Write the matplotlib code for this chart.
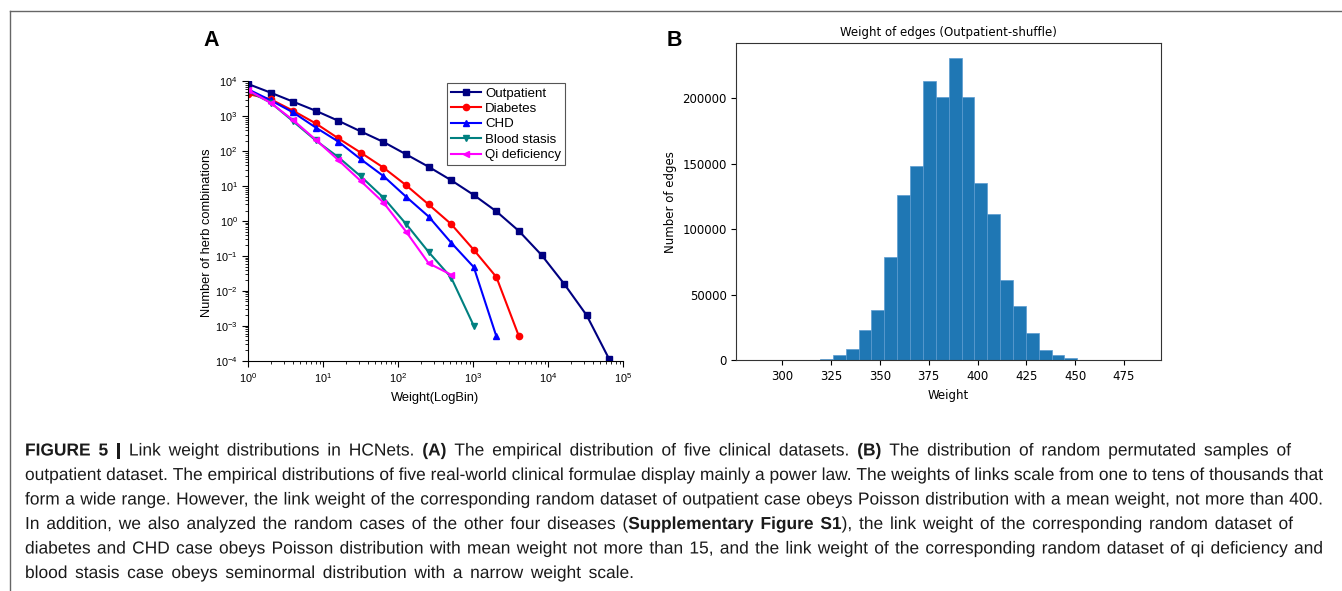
import re
import numpy as np
import matplotlib
matplotlib.use("Agg")
import matplotlib.pyplot as plt
from matplotlib.lines import Line2D
from matplotlib.patches import PathPatch
from matplotlib.textpath import TextPath, text_to_path
from matplotlib.font_manager import FontProperties
from matplotlib.transforms import Affine2D
from matplotlib.ticker import LogLocator, NullFormatter

plt.rcParams['font.family'] = ['Liberation Sans', 'DejaVu Sans']
plt.rcParams['mathtext.fontset'] = 'custom'
plt.rcParams['mathtext.rm'] = 'Liberation Sans'
plt.rcParams['mathtext.it'] = 'Liberation Sans:italic'
plt.rcParams['mathtext.bf'] = 'Liberation Sans:bold'

W, H = 1342, 591

# panel A: log-binned link weight distributions
weight_logbin = [1, 2, 4, 8, 16, 32, 64, 128, 256, 512, 1024, 2048, 4096,
                 8192, 16384, 32768, 65536]
outpatient = [8500, 4800, 2640, 1450, 750, 370, 185, 82, 36, 14.8, 5.6, 1.9,
              0.52, 0.107, 0.016, 0.002, 0.00011]
diabetes = [4400, 3100, 1450, 630, 235, 91, 34, 10.7, 3.0, 0.82, 0.15, 0.025, 0.0005]
chd = [6000, 2900, 1300, 480, 190, 59, 19.5, 5.0, 1.35, 0.24, 0.048, 0.0005]
blood_stasis = [5300, 2500, 720, 205, 68, 19, 4.7, 0.83, 0.13, 0.024, 0.001]
qi_deficiency = [5700, 2450, 780, 215, 56, 14, 3.4, 0.5, 0.062, 0.029]

series_names = ["Outpatient", "Diabetes", "CHD", "Blood stasis", "Qi deficiency"]
series_values = [outpatient, diabetes, chd, blood_stasis, qi_deficiency]
series_colors = ["#000080", "#ff0000", "#0000ff", "#008080", "#ff00ff"]
series_markers = ["s", "o", "^", "v", "<"]

# panel B: histogram of edge weights, shuffled outpatient data (30 bins)
shuffle_weight_min = 286.3
shuffle_weight_max = 484.1
shuffle_counts = [0, 0, 0, 0, 0, 1300, 4000, 8650, 22900, 38400, 78600,
                  126400, 148500, 213400, 200500, 230500, 200500, 135100,
                  111700, 61000, 41400, 20600, 7900, 4300, 1500, 500, 150,
                  50, 10, 5]

caption_lines = [
    "**FIGURE 5 |** Link weight distributions in HCNets. **(A)** The empirical distribution of five clinical datasets. **(B)** The distribution of random permutated samples of",
    "outpatient dataset. The empirical distributions of five real-world clinical formulae display mainly a power law. The weights of links scale from one to tens of thousands that",
    "form a wide range. However, the link weight of the corresponding random dataset of outpatient case obeys Poisson distribution with a mean weight, not more than 400.",
    "In addition, we also analyzed the random cases of the other four diseases (**Supplementary Figure S1**), the link weight of the corresponding random dataset of",
    "diabetes and CHD case obeys Poisson distribution with mean weight not more than 15, and the link weight of the corresponding random dataset of qi deficiency and",
    "blood stasis case obeys seminormal distribution with a narrow weight scale.",
]
caption_right = [1291, 1323, 1323, 1293, 1323, 634]

fig = plt.figure(figsize=(W / 100, H / 100), dpi=100)

# ---- panel A
axA = fig.add_axes([248 / W, 1 - 360.7 / H, (623 - 248) / W, (360.7 - 81.5) / H])
for name, vals, c, m in zip(series_names, series_values, series_colors, series_markers):
    axA.plot(weight_logbin[:len(vals)], vals, color=c, marker=m, lw=1.5, ms=4.5,
             label=name)
axA.set_xscale("log")
axA.set_yscale("log")
axA.set_xlim(1, 1e5)
axA.set_ylim(1e-4, 1e4)
axA.spines["top"].set_visible(False)
axA.spines["right"].set_visible(False)
axA.xaxis.set_major_locator(LogLocator(base=10, numticks=20))
axA.xaxis.set_minor_locator(LogLocator(base=10, subs=np.arange(2, 10), numticks=20))
axA.xaxis.set_minor_formatter(NullFormatter())
axA.yaxis.set_major_locator(LogLocator(base=10, numticks=20))
axA.yaxis.set_minor_locator(LogLocator(base=10, subs=np.arange(2, 10), numticks=20))
axA.yaxis.set_minor_formatter(NullFormatter())
axA.tick_params(which="major", direction="out", length=4, width=0.8, labelsize=7.8)
axA.tick_params(which="minor", direction="out", length=2, width=0.6)
axA.set_xlabel("Weight(LogBin)", fontsize=9.3, labelpad=5)
axA.set_ylabel("Number of herb combinations", fontsize=9.3)
axA.yaxis.set_label_coords(-0.093, 0.457)
leg = axA.legend(loc="upper left", bbox_to_anchor=(0.530, 0.9935), borderaxespad=0,
                 fontsize=9.5, fancybox=False, edgecolor="#555555", framealpha=1,
                 handlelength=2.3, handletextpad=0.3, labelspacing=0.24, borderpad=0.3)
leg.get_frame().set_linewidth(0.8)

# ---- panel B
axB = fig.add_axes([736.3 / W, 1 - 360.3 / H, (1161 - 736.3) / W, (360.3 - 43) / H])
edges = np.linspace(shuffle_weight_min, shuffle_weight_max, len(shuffle_counts) + 1)
axB.hist(edges[:-1], bins=edges, weights=shuffle_counts, color="#1f77b4",
         edgecolor="#5b9bd0", linewidth=0.5)
axB.set_title("Weight of edges (Outpatient-shuffle)", fontsize=8.5,
              family="DejaVu Sans", pad=5)
axB.set_xlabel("Weight", fontsize=8.5, family="DejaVu Sans")
axB.set_ylabel("Number of edges", fontsize=8.5, family="DejaVu Sans")
axB.tick_params(labelsize=8.5, labelfontfamily="DejaVu Sans")
for sp in axB.spines.values():
    sp.set_color("#333333")

# panel letters
fig.text(203 / W, 1 - 46.5 / H, "A", fontsize=15.5, fontweight="bold", va="baseline")
fig.text(666.5 / W, 1 - 46.5 / H, "B", fontsize=15.5, fontweight="bold", va="baseline")

# frame lines
fig.add_artist(Line2D([9.5 / W, 1], [1 - 10.5 / H] * 2, transform=fig.transFigure,
                      color="#666666", lw=1.0))
fig.add_artist(Line2D([9.5 / W] * 2, [0, 1 - 10.5 / H], transform=fig.transFigure,
                      color="#666666", lw=1.0))

# caption: words drawn as text paths so the baselines line up exactly
cap_size = 12.5
px_per_pt = 100 / 72
fp_reg = FontProperties(family="Liberation Sans", size=cap_size)
fp_bold = FontProperties(family="Liberation Sans", weight="bold", size=cap_size)


def parse_words(line):
    words = [[]]
    bold = False
    for part in re.split(r"(\*\*)", line):
        if part == "**":
            bold = not bold
            continue
        for i, p in enumerate(part.split(" ")):
            if i > 0:
                words.append([])
            if p:
                words[-1].append((p, bold))
    return [w for w in words if w]


def frag_width(txt, fp):
    w, _, _ = text_to_path.get_text_width_height_descent(txt, fp, ismath=False)
    return w * px_per_pt


for k, (line, xr) in enumerate(zip(caption_lines, caption_right)):
    y = 455.5 + k * 24.5
    words = parse_words(line)
    widths = [sum(frag_width(t, fp_bold if b else fp_reg) for t, b in w) for w in words]
    gap = (xr - 25 - sum(widths)) / (len(words) - 1)
    x = 25
    for w in words:
        for txt, b in w:
            fp = fp_bold if b else fp_reg
            path = TextPath((0, 0), txt, prop=fp)
            tr = Affine2D().scale(px_per_pt).translate(x, H - y)
            fig.add_artist(PathPatch(path, transform=tr, facecolor="#1a1a1a",
                                     edgecolor="none", lw=0))
            x += frag_width(txt, fp)
        x += gap

fig.savefig("out.png", dpi=100)
